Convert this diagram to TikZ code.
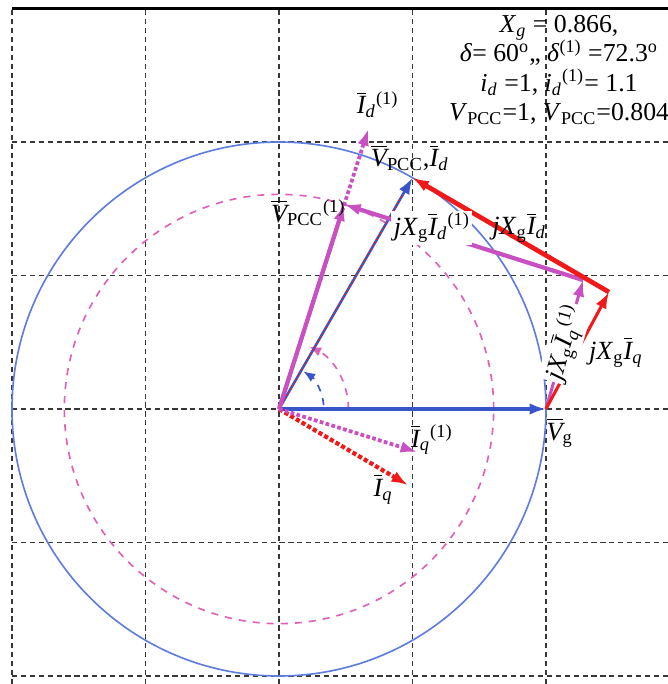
\documentclass[tikz,border=0pt]{standalone}
\usepackage{fontspec}
\setmainfont{Liberation Serif}
\usetikzlibrary{arrows.meta}
\definecolor{vblue}{RGB}{55,85,200}
\definecolor{cblue}{RGB}{95,125,220}
\definecolor{vred}{RGB}{240,25,25}
\definecolor{vmag}{RGB}{200,80,195}
\definecolor{vpink}{RGB}{225,95,185}
\definecolor{gridc}{RGB}{55,55,55}
\newcommand{\ivar}[1]{\textit{#1}}
\newcommand{\ovar}[1]{$\overline{\mbox{\itshape #1}}$}
\newcommand{\lsub}[1]{\textsubscript{#1}}
\newcommand{\lsup}[1]{\textsuperscript{#1}}

\begin{document}
\begin{tikzpicture}[x=4cm,y=4cm,
  vec/.style={-{Latex[length=7pt,width=5pt]}},
  lbl/.style={font=\fontsize{11.2}{12.8}\selectfont, inner sep=1pt}]
  \useasboundingbox (-1.045,-1.03) rectangle (1.457,1.532);
  % grid
  \foreach \g in {-1,-0.5,0,0.5,1} {
    \draw[gridc, line width=0.6pt, dash pattern=on 2.2pt off 1.6pt] (\g,-1.03) -- (\g,1.5);
    \draw[gridc, line width=0.6pt, dash pattern=on 2.2pt off 1.6pt] (-1,\g) -- (1.457,\g);
  }
  \draw[line width=1.4pt] (-1,1.5) -- (1.457,1.5);
  \draw[cblue, line width=0.7pt] (0,0) circle (1);
  \draw[vpink, line width=0.7pt, dashed] (0,0) circle (0.804);
  % vector end points
  \coordinate (o) at (0,0);
  \coordinate (vg) at (1,0);
  \coordinate (vpcc) at (60:1);
  \coordinate (vq) at (1.236,0.438);
  \coordinate (iq) at (0.483,-0.285);
  \coordinate (vpcc1) at (72.3:0.804);
  \coordinate (id1) at (72.3:1.1);
  \coordinate (vq1) at (1.139,0.483);
  \coordinate (iq1) at (0.517,-0.161);
  % angles
  \draw[vblue, dashed, line width=0.7pt, -{Latex[length=5pt,width=4pt]}] (5:0.168) arc[start angle=5, end angle=57, radius=0.168];
  \draw[vpink, dashed, line width=0.7pt, -{Latex[length=5pt,width=4pt]}] (0:0.26) arc[start angle=0, end angle=64, radius=0.26];
  % vectors
  \draw[vec, vblue, line width=1.8pt] (o) -- (vg);
  \draw[vec, vblue, line width=1.1pt] (o) -- (vpcc);
  \draw[vred, densely dotted, line width=0.6pt, shorten >=8pt] (o) -- (vpcc);
  \draw[vec, vmag, densely dotted, line width=1.6pt] (o) -- (id1);
  \draw[vec, vmag, line width=1.8pt] (o) -- (vpcc1);
  \draw[vec, vmag, line width=1.8pt] (vq1) -- (vpcc1);
  \draw[vec, vmag, line width=1.3pt] (vg) -- (vq1);
  \draw[vec, vred, line width=2pt] (vq) -- (vpcc);
  \draw[vec, vred, line width=1.3pt] (vg) -- (vq);
  \draw[vec, vred, densely dotted, line width=1.8pt] (o) -- (iq);
  \draw[vec, vmag, densely dotted, line width=1.6pt] (o) -- (iq1);
  % labels
  \node[lbl] (lid1) at (0.37,1.14) {\ovar{I}\lsub{\ivar{d}}\lsup{(1)}};
  \node[lbl] (lvpcc) at (0.49,0.94) {\ovar{V}\lsub{PCC},\ovar{I}\lsub{\ivar{d}}};
  \node[lbl] (lvpcc1) at (0.11,0.734) {\ovar{V}\lsub{PCC}\lsup{(1)}};
  \node[lbl, fill=white] (ljxid1) at (0.573,0.678) {\ivar{jX}\lsub{g}\ovar{I}\lsub{\ivar{d}}\lsup{(1)}};
  \node[lbl] (ljxid) at (0.90,0.68) {\ivar{jX}\lsub{g}\ovar{I}\lsub{\ivar{d}}};
  \node[lbl, fill=white, rotate=74] (ljxiq1) at (1.071,0.247) {\ivar{jX}\lsub{g}\ovar{I}\lsub{\ivar{q}}\lsup{(1)}};
  \node[lbl] (ljxiq) at (1.262,0.213) {\ivar{jX}\lsub{g}\ovar{I}\lsub{\ivar{q}}};
  \node[lbl] (lvg) at (1.052,-0.09) {\ovar{V}\lsub{g}};
  \node[lbl] (liq1) at (0.573,-0.116) {\ovar{I}\lsub{\ivar{q}}\lsup{(1)}};
  \node[lbl] (liq) at (0.39,-0.30) {\ovar{I}\lsub{\ivar{q}}};
  \node[lbl, align=center, font=\fontsize{11}{12.6}\selectfont] (params) at (1.049,1.27) {\ivar{X}\lsub{\ivar{g}} = 0.866,\\
    \ivar{δ}= 60\lsup{o},, \ivar{δ}\lsup{(1)} =72.3\lsup{o}\\
    \ivar{i}\lsub{\ivar{d}} =1,\ \ivar{i}\lsub{\ivar{d}}\lsup{(1)}= 1.1\\
    \ivar{V}\lsub{PCC}=1,\ \ivar{V}\lsub{PCC}=0.804};
\end{tikzpicture}
\end{document}
